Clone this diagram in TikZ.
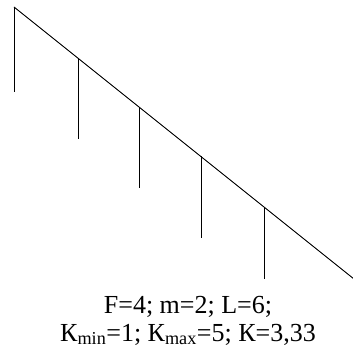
\documentclass[tikz,border=0pt]{standalone}
\usepackage{fontspec}
\setmainfont{Liberation Serif}
\begin{document}
\begin{tikzpicture}[x=1pt,y=-1pt,
  bar/.style={line width=0.9pt, black},
  lbl/.style={anchor=base, inner sep=0pt, font=\fontsize{26}{28}\selectfont}]
\useasboundingbox (0,0) rectangle (353,352);
\coordinate (d0) at (14,7);
\coordinate (d1) at (78,58);
\coordinate (d2) at (139,107);
\coordinate (d3) at (201,156);
\coordinate (d4) at (264,207);
\coordinate (dE) at (354,279);
\coordinate (b0) at (14,92);
\coordinate (b1) at (78,139);
\coordinate (b2) at (139,188);
\coordinate (b3) at (201,238);
\coordinate (b4) at (264,279);
\draw[bar] (d0) -- (dE);
\foreach \i in {0,...,4} \draw[bar] (d\i) -- (b\i);
\node[lbl] (t1) at (188,313) {F=4; m=2; L=6;};
\node[lbl] (t2) at (188,341) {К\textsubscript{min}=1; К\textsubscript{max}=5; К=3,33};
\end{tikzpicture}
\end{document}
